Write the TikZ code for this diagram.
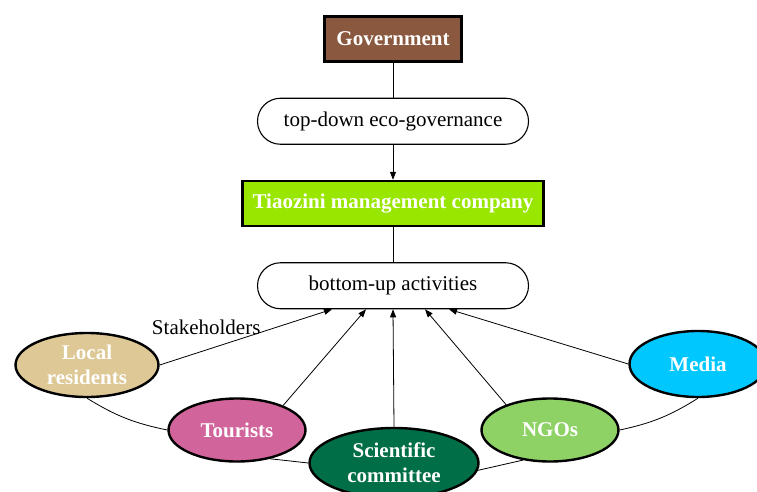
\documentclass[tikz,border=0pt]{standalone}
\usepackage{fontspec}
\setmainfont{Liberation Serif}
\usepackage{xcolor}
\usetikzlibrary{arrows.meta,positioning,shapes.geometric}

\definecolor{govbrown}{RGB}{138,88,62}
\definecolor{tzgreen}{RGB}{153,230,0}
\definecolor{localtan}{RGB}{221,200,150}
\definecolor{tourpink}{RGB}{209,100,155}
\definecolor{scigreen}{RGB}{0,110,70}
\definecolor{ngogreen}{RGB}{142,210,102}
\definecolor{mediacyan}{RGB}{0,200,255}

\begin{document}
\begin{tikzpicture}[
  x=1pt, y=1pt,
  node distance=35pt,
  every node/.style={font=\fontsize{21}{25}\selectfont},
  headbox/.style={draw, line width=2.4pt, minimum height=45pt, text=white,
    font=\fontsize{21}{25}\selectfont\bfseries},
  flowbox/.style={draw, line width=1.1pt, rounded corners=23pt,
    minimum width=271pt, minimum height=46pt},
  stake/.style={ellipse, draw, line width=2.4pt, text=white, align=center,
    inner sep=0pt, font=\fontsize{21}{25}\selectfont\bfseries},
  flow/.style={-{Triangle[length=8pt,width=6pt]}, line width=0.8pt},
  link/.style={line width=0.8pt},
]
\useasboundingbox (0,0) rectangle (757,491);

\node[headbox, fill=govbrown, minimum width=137pt] (gov) at (393,452) {Government};
\node[flowbox, below=of gov] (topdown) {top-down eco-governance};
\node[headbox, fill=tzgreen, minimum width=301pt, below=of topdown] (tz)
  {Tiaozini management company};
\node[flowbox, below=of tz] (act) {bottom-up activities};

\draw[link] (gov) -- (topdown);
\draw[flow] (topdown) -- (tz);
\draw[link] (tz) -- (act);

% stakeholder groups
\node[stake, fill=localtan, minimum width=143pt, minimum height=64pt] (local) at (87,126) {Local\\residents};
\node[stake, fill=tourpink, minimum width=137pt, minimum height=63pt] (tour) at (237,61) {Tourists};
\node[stake, fill=scigreen, minimum width=169pt, minimum height=70pt] (sci) at (394,28) {Scientific\\committee};
\node[stake, fill=ngogreen, minimum width=137pt, minimum height=63pt] (ngo) at (550,61) {NGOs};
\node[stake, fill=mediacyan, minimum width=137pt, minimum height=66pt] (media) at (698,127) {Media};

\draw[flow] (local.east) -- node[pos=0.27, above=12pt] {Stakeholders} ([xshift=-61pt]act.south);
\draw[flow] (tour.28) -- ([xshift=-27pt]act.south);
\draw[flow] (sci.north) -- (act.south);
\draw[flow] (ngo.150) -- ([xshift=32pt]act.south);
\draw[flow] (media.west) -- ([xshift=56pt]act.south);

% ring linking the groups
\draw[link] (local.south) to[bend right=10] (tour.west);
\draw[link] (tour.-41) -- (sci.west);
\draw[link] (sci.-5) -- (ngo.228);
\draw[link] (ngo.east) to[bend right=10] (media.south);
\end{tikzpicture}
\end{document}
